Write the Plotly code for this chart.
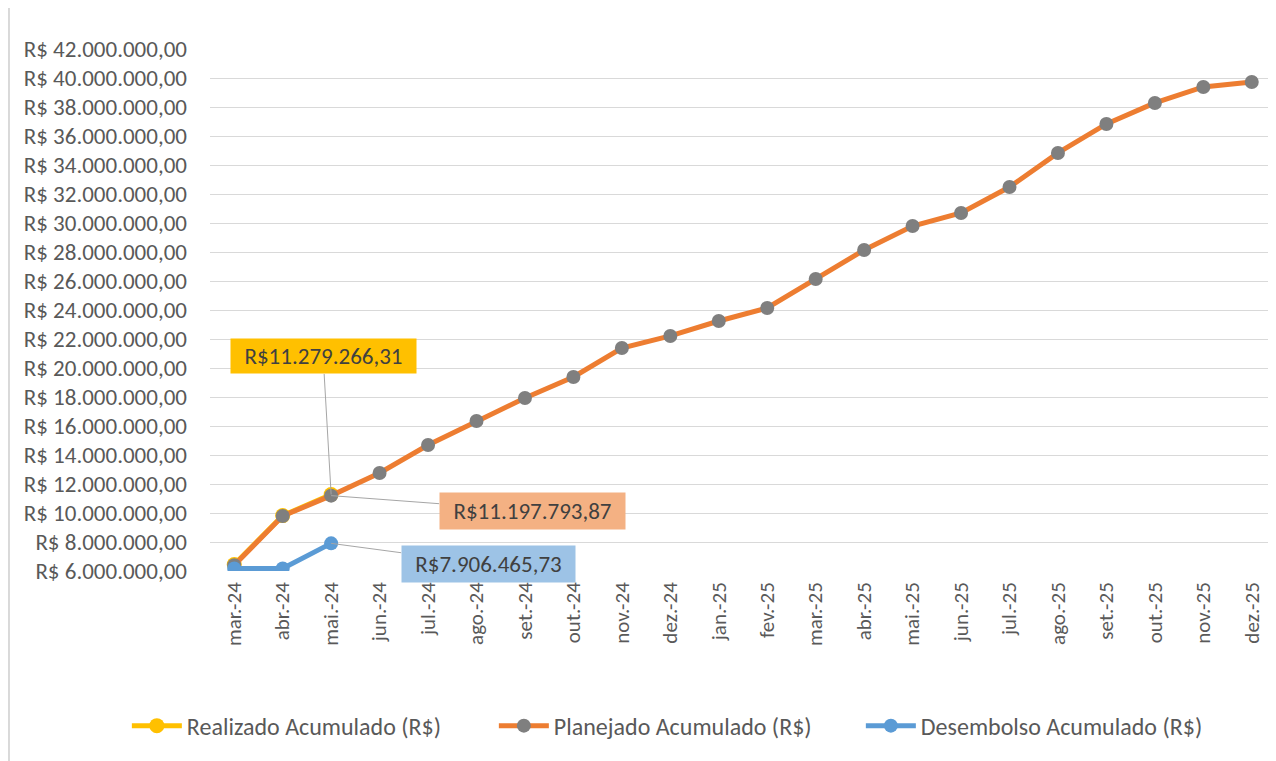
import plotly.graph_objects as go

meses = ["mar.-24", "abr.-24", "mai.-24", "jun.-24", "jul.-24", "ago.-24", "set.-24", "out.-24",
         "nov.-24", "dez.-24", "jan.-25", "fev.-25", "mar.-25", "abr.-25", "mai.-25", "jun.-25",
         "jul.-25", "ago.-25", "set.-25", "out.-25", "nov.-25", "dez.-25"]

planejado = [6400000, 9790000, 11197793.87, 12760000, 14690000, 16340000, 17930000, 19380000,
             21380000, 22210000, 23240000, 24140000, 26140000, 28140000, 29790000, 30690000,
             32480000, 34830000, 36830000, 38280000, 39380000, 39720000]

realizado_meses = ["mar.-24", "abr.-24", "mai.-24"]
realizado = [6450000, 9820000, 11279266.31]

desembolso_meses = ["mar.-24", "abr.-24", "mai.-24"]
desembolso = [6170000, 6180000, 7906465.73]

y_ticks = list(range(6000000, 42000001, 2000000))


def brl(v, space=True):
    s = f"{v:,.2f}".replace(",", "X").replace(".", ",").replace("X", ".")
    return ("R$ " if space else "R$") + s


FONT = "Carlito, Calibri, 'Open Sans', sans-serif"
TXT = "#595959"

fig = go.Figure()
fig.add_trace(go.Scatter(
    x=realizado_meses, y=realizado, mode="lines+markers", name="Realizado Acumulado (R$)",
    line=dict(color="#FFC000", width=5), marker=dict(color="#FFC000", size=15)))
fig.add_trace(go.Scatter(
    x=meses, y=planejado, mode="lines+markers", name="Planejado Acumulado (R$)",
    line=dict(color="#ED7D31", width=5), marker=dict(color="#7F7F7F", size=14)))
fig.add_trace(go.Scatter(
    x=desembolso_meses, y=desembolso, mode="lines+markers", name="Desembolso Acumulado (R$)",
    line=dict(color="#5B9BD5", width=5), marker=dict(color="#5B9BD5", size=14)))

ann_common = dict(xref="x", yref="y", showarrow=True, arrowhead=0, arrowwidth=1,
                  arrowcolor="#A6A6A6", font=dict(family=FONT, size=23, color="#404040"),
                  borderpad=4, standoff=0)
fig.add_annotation(x=realizado_meses[2], y=realizado[2], text=brl(realizado[2], False),
                   bgcolor="#FFC000", ax=-8, ay=-138, width=177, height=26, **ann_common)
fig.add_annotation(x=meses[2], y=planejado[2], text=brl(planejado[2], False),
                   bgcolor="#F4B183", ax=201, ay=15, width=177, height=28, **ann_common)
fig.add_annotation(x=desembolso_meses[2], y=desembolso[2], text=brl(desembolso[2], False),
                   bgcolor="#9DC3E6", ax=157, ay=21, width=165, height=28, **ann_common)

# chart-area border (left edge)
fig.add_shape(type="line", xref="paper", yref="paper", x0=-0.1886, x1=-0.1886, y0=-0.4, y1=1.2,
              line=dict(color="#D9D9D9", width=2))

fig.update_layout(
    width=1268, height=753,
    margin=dict(l=202, r=0, t=41, b=190),
    paper_bgcolor="white", plot_bgcolor="white",
    font=dict(family=FONT, size=16, color=TXT),
    showlegend=True,
    legend=dict(orientation="h", x=-0.078, xanchor="left", y=-0.297, yanchor="middle",
                font=dict(family=FONT, size=24, color=TXT),
                entrywidth=302, entrywidthmode="pixels", itemwidth=50),
    xaxis=dict(type="category", categoryorder="array", categoryarray=meses,
               range=[-0.5, 21.5], tickangle=-90, showgrid=False, zeroline=False,
               showline=False, ticks="", ticklabelstandoff=6,
               tickfont=dict(family=FONT, size=21, color=TXT)),
    yaxis=dict(range=[6000000, 42000000], tickvals=y_ticks, ticktext=[brl(v) for v in y_ticks],
               showgrid=True, gridcolor="#D9D9D9", gridwidth=1, zeroline=False, showline=False,
               ticks="", ticklabelstandoff=22, tickfont=dict(family=FONT, size=23, color=TXT)),
)

fig.write_html("out.html")
